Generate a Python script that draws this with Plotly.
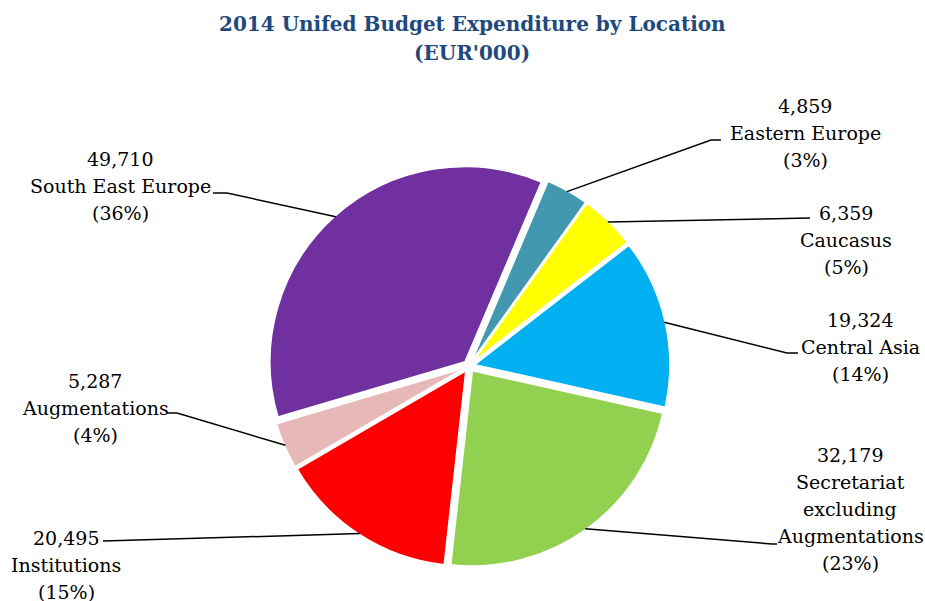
import math
import plotly.graph_objects as go

# ---- data ----
regions = [
    "Eastern Europe",
    "Caucasus",
    "Central Asia",
    "Secretariat excluding Augmentations",
    "Institutions",
    "Augmentations",
    "South East Europe",
]
label_rows = [
    ["Eastern Europe"],
    ["Caucasus"],
    ["Central Asia"],
    ["Secretariat", "excluding", "Augmentations"],
    ["Institutions"],
    ["Augmentations"],
    ["South East Europe"],
]
expenditure = [4859, 6359, 19324, 32179, 20495, 5287, 49710]  # EUR'000
share_pct = [3, 5, 14, 23, 15, 4, 36]
title_lines = ["2014 Unifed Budget Expenditure by Location", "(EUR'000)"]

# ---- styling / layout ----
W, H = 925, 601
slice_colors = ["#4198AF", "#FFFF00", "#00B0F0", "#92D050", "#FF0000", "#E6B9B8", "#7030A0"]
PULL = 0.03
ROTATION = 23
pie_cx, pie_cy, pie_half = 469, 366, 201  # pixel centre and half-size of the pie box
LABEL_FONT = "DejaVu Serif"
LINE_GAP = 27

# label block centres (px) and leader-line elbow/end points (px)
label_place = [
    dict(cx=805, cy=133, elbow=(711, 140), end=(721, 140)),
    dict(cx=846, cy=240, elbow=(810, 218), end=(810, 218)),
    dict(cx=860, cy=347, elbow=(787, 353), end=(798, 353)),
    dict(cx=850, cy=509, elbow=(772, 544), end=(777, 544)),
    dict(cx=66, cy=565, elbow=(103, 541), end=(103, 541)),
    dict(cx=95, cy=408, elbow=(177, 413), end=(167, 413)),
    dict(cx=120, cy=186, elbow=(227, 193), end=(213, 193)),
]


def px(x, y):
    return x / W, 1 - y / H


dom_x = [(pie_cx - pie_half) / W, (pie_cx + pie_half) / W]
dom_y = [1 - (pie_cy + pie_half) / H, 1 - (pie_cy - pie_half) / H]

fig = go.Figure(
    go.Pie(
        labels=regions,
        values=expenditure,
        sort=False,
        direction="clockwise",
        rotation=ROTATION,
        pull=[PULL] * len(expenditure),
        marker=dict(colors=slice_colors, line=dict(color="white", width=1.5)),
        textinfo="none",
        showlegend=False,
        domain=dict(x=dom_x, y=dom_y),
    )
)

# leader lines start on each slice's outer edge at its mid-angle
total = sum(expenditure)
r_outer = pie_half - 1
annotations = []
shapes = []
cum = 0
for i, v in enumerate(expenditure):
    mid = math.radians(ROTATION + (cum + v / 2) / total * 360)
    cum += v
    sx = pie_cx + r_outer * math.sin(mid)
    sy = pie_cy - r_outer * math.cos(mid)
    p = label_place[i]
    pts = [(sx, sy), p["elbow"], p["end"]]
    path = "M " + " L ".join("{:.5f},{:.5f}".format(*px(x, y)) for x, y in pts)
    shapes.append(dict(type="path", xref="paper", yref="paper", path=path,
                       line=dict(color="black", width=1.5)))

    rows = ["{:,}".format(v)] + label_rows[i] + ["({}%)".format(share_pct[i])]
    n = len(rows)
    for k, txt in enumerate(rows):
        ly = p["cy"] + (k - (n - 1) / 2) * LINE_GAP
        ax, ay = px(p["cx"], ly)
        annotations.append(dict(x=ax, y=ay, xref="paper", yref="paper", text=txt,
                                showarrow=False, xanchor="center", yanchor="middle",
                                font=dict(family=LABEL_FONT, size=19, color="black")))

for k, txt in enumerate(title_lines):
    tx, ty = px(472, 24 + k * 29)
    annotations.append(dict(x=tx, y=ty, xref="paper", yref="paper", text="<b>" + txt + "</b>",
                            showarrow=False, xanchor="center", yanchor="middle",
                            font=dict(family=LABEL_FONT, size=20, color="#1F497D")))

fig.update_layout(
    width=W,
    height=H,
    margin=dict(l=0, r=0, t=0, b=0),
    paper_bgcolor="white",
    plot_bgcolor="white",
    shapes=shapes,
    annotations=annotations,
)

fig.write_html("out.html")
